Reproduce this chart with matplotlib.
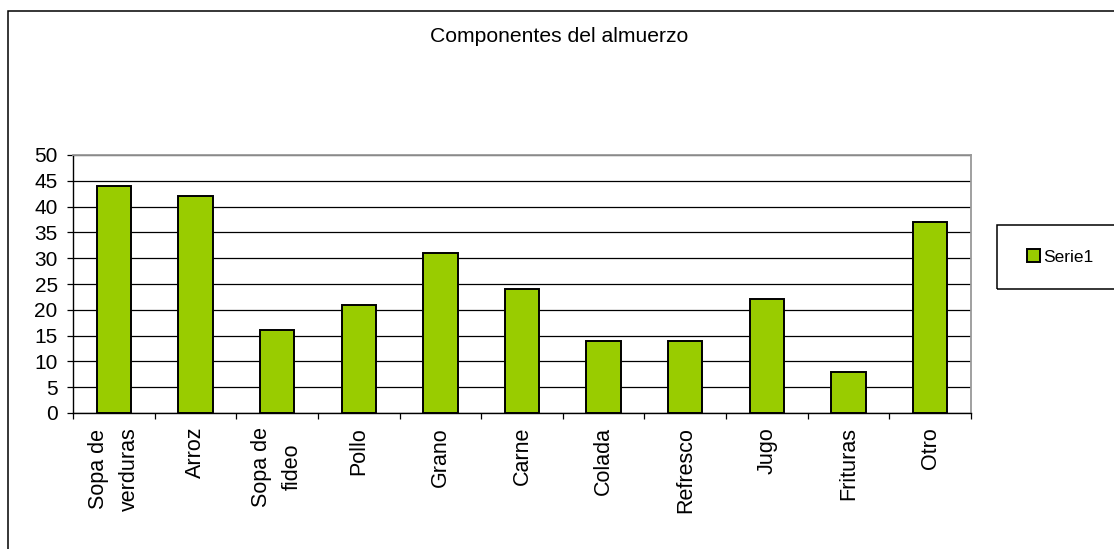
import matplotlib
matplotlib.use("Agg")
import matplotlib.pyplot as plt
from matplotlib.patches import Rectangle

plt.rcParams['font.family'] = ['Liberation Sans', 'DejaVu Sans']

categorias = ["Sopa de\nverduras", "Arroz", "Sopa de\nfideo", "Pollo", "Grano",
              "Carne", "Colada", "Refresco", "Jugo", "Frituras", "Otro"]
serie1 = [44, 42, 16, 21, 31, 24, 14, 14, 22, 8, 37]
yticks = [0, 5, 10, 15, 20, 25, 30, 35, 40, 45, 50]

W, H = 1114, 549
fig = plt.figure(figsize=(W / 100, H / 100), dpi=100)
ax = fig.add_axes([73 / W, 1 - 413 / H, (971 - 73) / W, (413 - 155) / H])

pos = list(range(len(categorias)))
bars = ax.bar(pos, serie1, width=0.42, color="#99CC00", edgecolor="black",
              linewidth=1.4, label="Serie1", zorder=3)

ax.set_xlim(-0.5, len(categorias) - 0.5)
ax.set_ylim(0, 50)
ax.set_yticks(yticks)
ax.yaxis.grid(True, color="black", linewidth=0.9, zorder=1)
ax.set_axisbelow(True)

ax.set_xticks(pos)
ax.set_xticklabels(categorias, rotation=90, ha="center", va="top",
                   multialignment="center", fontsize=15.5, linespacing=1.6)
ax.set_xticks([p - 0.5 for p in pos] + [len(categorias) - 0.5], minor=True)
ax.tick_params(axis="x", which="major", length=0, pad=10)
ax.tick_params(axis="x", which="minor", length=4, width=0.9, direction="out")
ax.tick_params(axis="y", length=4, width=0.9, pad=7, labelsize=15)

for side in ("top", "right"):
    ax.spines[side].set_color("#999999")
    ax.spines[side].set_linewidth(1.3)
for side in ("left", "bottom"):
    ax.spines[side].set_color("black")
    ax.spines[side].set_linewidth(1.0)

fig.text(559 / W, 1 - 37 / H, "Componentes del almuerzo", ha="center",
         va="center", fontsize=15.2)

# chart frame and legend box run past the right/bottom edges
fig.patches.append(Rectangle((8 / W, -0.2), 1.2, 1.2 - 11 / H,
                             transform=fig.transFigure, fill=False,
                             edgecolor="black", linewidth=1.1))
fig.patches.append(Rectangle((997 / W, 1 - 289 / H), 0.2, 64 / H,
                             transform=fig.transFigure, fill=False,
                             edgecolor="black", linewidth=1.1))
fig.legend(handles=[bars], labels=["Serie1"], loc="center left",
           bbox_to_anchor=(1027 / W, 1 - 257 / H), frameon=False,
           fontsize=12.5, handlelength=0.75, handleheight=0.75,
           handletextpad=0.2, borderpad=0, borderaxespad=0)

fig.savefig("out.png", dpi=100, facecolor="white")
